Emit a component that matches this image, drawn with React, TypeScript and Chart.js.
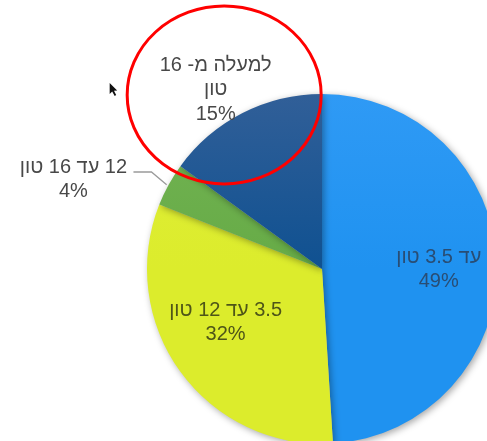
import React, { useEffect, useRef } from "react";
import { Chart, registerables } from "chart.js";

Chart.register(...registerables);

const categories: string[][] = [
  ["עד 3.5 טון"],
  ["3.5 עד 12 טון"],
  ["12 עד 16 טון"],
  ["למעלה מ- 16", "טון"],
];
const shares: number[] = [49, 32, 4, 15];
const percentLabels: string[] = ["49%", "32%", "4%", "15%"];

const sliceColors = ["#1f92f0", "#dcec2c", "#66ab46", "#0f5191"];
const sliceTopColors = ["#2f9af5", "#dfee3a", "#74b455", "#315f98"];
const labelColors = ["#294d74", "#4e5518", "#484848", "#484848"];

// label placement: angle offset (deg) from slice middle, radial factor
const placement = [
  { da: 2, rf: 0.667 },
  { da: 7, rf: 0.63 },
  { da: -8.95, rf: 1.51 },
  { da: -3.7, rf: 1.19 },
];

const FONT = '20px "Liberation Sans", "DejaVu Sans", Arial, sans-serif';
const LINE_H = 24.5;

const labelPlugin = {
  id: "sliceLabels",
  beforeDatasetsDraw(chart: any) {
    const ctx = chart.ctx;
    ctx.save();
    ctx.shadowColor = "rgba(0,0,0,0.35)";
    ctx.shadowBlur = 7;
    ctx.shadowOffsetX = 2;
    ctx.shadowOffsetY = 2;
  },
  afterDatasetsDraw(chart: any) {
    const ctx = chart.ctx;
    ctx.restore();
    const meta = chart.getDatasetMeta(0);
    ctx.save();
    ctx.font = FONT;
    ctx.textAlign = "center";
    ctx.textBaseline = "middle";
    (ctx as any).direction = "rtl";
    let topLabel: { x: number; y: number } | null = null;
    meta.data.forEach((arc: any, i: number) => {
      const mid = (arc.startAngle + arc.endAngle) / 2 + (placement[i].da * Math.PI) / 180;
      const r = arc.outerRadius * placement[i].rf;
      const cx = arc.x + Math.cos(mid) * r;
      const cy = arc.y + Math.sin(mid) * r;
      const lines = [...categories[i], percentLabels[i]];
      const y0 = cy - ((lines.length - 1) * LINE_H) / 2;
      ctx.fillStyle = labelColors[i];
      lines.forEach((t, k) => ctx.fillText(t, cx, y0 + k * LINE_H));
      if (placement[i].rf > 1 && i === 2) {
        // leader line
        const m = (arc.startAngle + arc.endAngle) / 2;
        const ex = arc.x + Math.cos(m) * arc.outerRadius;
        const ey = arc.y + Math.sin(m) * arc.outerRadius;
        const lx = cx + 60;
        const ly = y0 + 5;
        ctx.strokeStyle = "#9a9a9a";
        ctx.lineWidth = 1.3;
        ctx.beginPath();
        ctx.moveTo(ex - 2, ey);
        ctx.lineTo(lx + 18, ly);
        ctx.lineTo(lx, ly);
        ctx.stroke();
      }
      if (i === 3) topLabel = { x: cx, y: cy };
    });
    if (topLabel) {
      const t = topLabel as { x: number; y: number };
      // red highlight ellipse
      ctx.strokeStyle = "#ff0000";
      ctx.lineWidth = 3;
      ctx.beginPath();
      ctx.ellipse(t.x + 8.5, t.y + 5, 97, 89, 0, 0, Math.PI * 2);
      ctx.stroke();
      // mouse pointer
      const px = t.x - 106;
      const py = t.y - 7;
      ctx.fillStyle = "#111";
      ctx.beginPath();
      ctx.moveTo(px, py);
      ctx.lineTo(px, py + 11);
      ctx.lineTo(px + 2.5, py + 8.5);
      ctx.lineTo(px + 5, py + 13);
      ctx.lineTo(px + 6.5, py + 12);
      ctx.lineTo(px + 4.3, py + 7.8);
      ctx.lineTo(px + 7.5, py + 7.5);
      ctx.closePath();
      ctx.fill();
    }
    ctx.restore();
  },
};

export default function App() {
  const ref = useRef<HTMLCanvasElement>(null);
  useEffect(() => {
    if (!ref.current) return;
    const chart = new Chart(ref.current, {
      type: "pie",
      data: {
        labels: categories.map((c) => c.join(" ")),
        datasets: [
          {
            data: shares,
            borderWidth: 0,
            backgroundColor: (c: any) => {
              const ch = c.chart;
              const area = ch.chartArea;
              if (!area) return sliceColors[c.dataIndex];
              const g = ch.ctx.createLinearGradient(0, area.top, 0, (area.top + area.bottom) / 2);
              g.addColorStop(0, sliceTopColors[c.dataIndex]);
              g.addColorStop(1, sliceColors[c.dataIndex]);
              return g;
            },
          },
        ],
      },
      options: {
        animation: false,
        responsive: true,
        maintainAspectRatio: false,
        layout: { padding: { left: 147, right: 147, top: 94, bottom: 94 } },
        plugins: { legend: { display: false }, tooltip: { enabled: false } },
      },
      plugins: [labelPlugin],
    });
    return () => chart.destroy();
  }, []);
  return (
    <div style={{ position: "fixed", left: 0, top: 0, width: 487, height: 441, overflow: "hidden", background: "#fff" }}>
      <div style={{ position: "absolute", left: 0, top: 0, width: 644, height: 538 }}>
        <canvas ref={ref} />
      </div>
    </div>
  );
}
